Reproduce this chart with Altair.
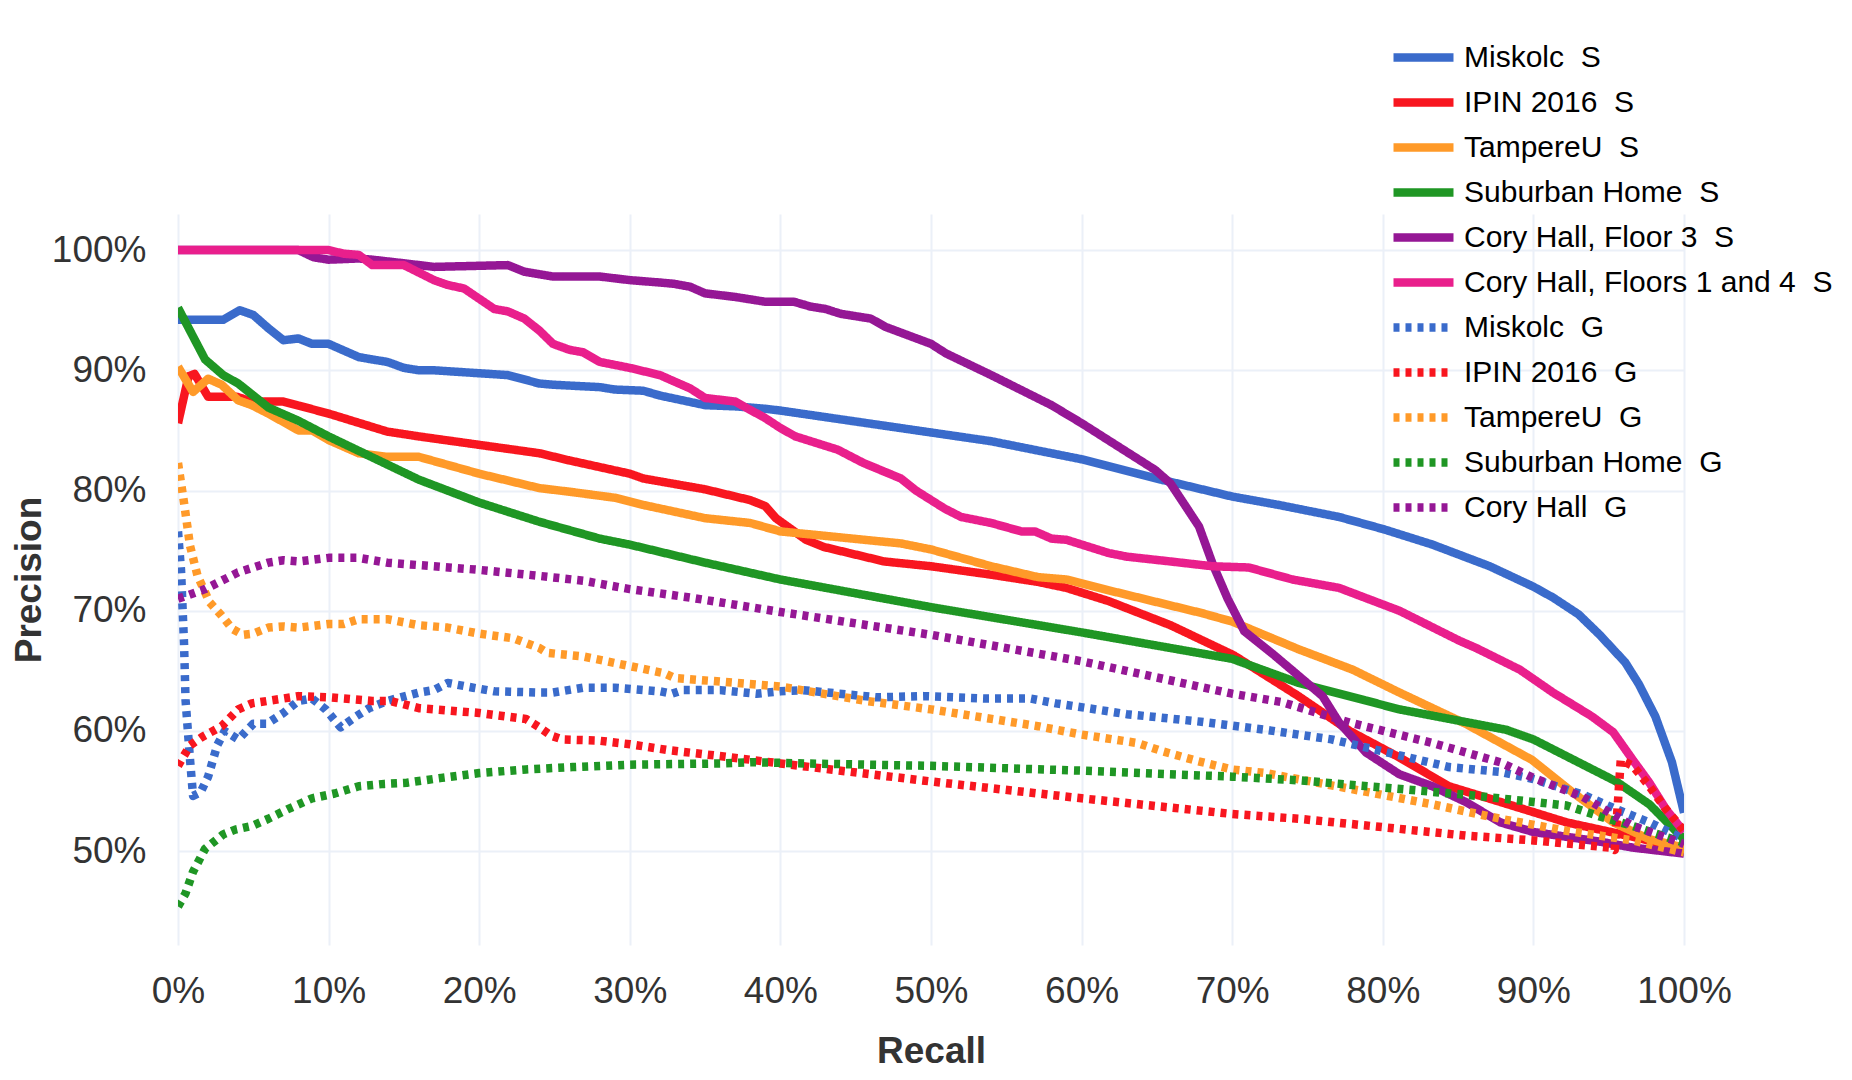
import altair as alt
import pandas as pd

NB = " \u00a0"
names = [
    "Miskolc" + NB + "S",
    "IPIN 2016" + NB + "S",
    "TampereU" + NB + "S",
    "Suburban Home" + NB + "S",
    "Cory Hall, Floor 3" + NB + "S",
    "Cory Hall, Floors 1 and 4" + NB + "S",
    "Miskolc" + NB + "G",
    "IPIN 2016" + NB + "G",
    "TampereU" + NB + "G",
    "Suburban Home" + NB + "G",
    "Cory Hall" + NB + "G",
]
colors = ["#3a6bcb", "#f8161f", "#ff9a29", "#1f9624", "#951795", "#e91f8c",
          "#3a6bcb", "#f8161f", "#ff9a29", "#1f9624", "#951795"]

# --- Miskolc S
miskolc_s_x = [0, 3, 4.1, 5, 6, 7, 8, 8.9, 10, 12, 12.9, 13.9, 15, 16, 17, 21.9, 24, 24.9, 28, 29, 30.9, 32, 35, 37, 39, 40,
               54, 60, 65.3, 70, 73.1, 77.1, 80, 83.3, 87.1, 90, 91.3, 93, 94.4, 96.1, 97, 98.1, 99.2, 100]
miskolc_s_y = [94.2, 94.2, 95.0, 94.6, 93.5, 92.5, 92.65, 92.2, 92.2, 91.1, 90.9, 90.7, 90.2, 90.0, 90.0, 89.6, 88.9, 88.8, 88.6,
               88.4, 88.3, 87.9, 87.1, 87.0, 86.8, 86.65, 84.1, 82.6, 80.9, 79.5, 78.8, 77.8, 76.8, 75.5, 73.7, 72.0, 71.1,
               69.7, 68.0, 65.7, 63.9, 61.2, 57.4, 53.2]
# --- IPIN 2016 S
ipin_s_x = [0, 0.7, 1.1, 2, 3.9, 4.9, 7, 10, 13.9, 16, 20, 24, 26, 30, 30.9, 35, 38, 39, 39.7, 41.7, 42.9, 46.9, 50, 54, 57.1,
            59, 61.8, 65.9, 70.1, 74.4, 77.8, 81.1, 84.4, 87.8, 92.2, 96.6, 100]
ipin_s_y = [85.6, 89.5, 89.7, 87.8, 87.8, 87.4, 87.4, 86.4, 84.9, 84.5, 83.8, 83.1, 82.5, 81.4, 81.0, 80.1, 79.2, 78.7, 77.7,
            75.9, 75.3, 74.1, 73.7, 73.0, 72.4, 71.9, 70.8, 68.8, 66.3, 62.9, 60.0, 57.8, 55.4, 54.1, 52.4, 51.2, 50.2]
# --- TampereU S
tampere_s_x = [0, 1.0, 2, 2.9, 4, 4.9, 6, 8, 8.9, 10, 12, 13.9, 16, 20, 24, 26, 29, 30.9, 35, 38, 40, 48, 50, 54, 57.1, 59,
               61.8, 68, 70, 74.4, 78, 81.1, 85.5, 89.9, 92.6, 95.3, 97.7, 100]
tampere_s_y = [90.3, 88.2, 89.3, 88.8, 87.5, 87.1, 86.4, 85.0, 85.0, 84.2, 83.1, 82.8, 82.8, 81.4, 80.2, 79.9, 79.4, 78.8,
               77.7, 77.3, 76.6, 75.6, 75.1, 73.7, 72.8, 72.6, 71.7, 69.8, 69.1, 66.8, 65.1, 63.2, 60.6, 57.6, 54.9, 52.4,
               51.0, 50.3]
# --- Suburban Home S
suburban_s_x = [0, 1.8, 3, 4, 6, 8, 10, 12, 15, 16, 20, 24, 28, 30, 35, 40, 50, 60, 70, 74.4, 81.1, 88.2, 90, 93.3, 95.5,
                97.7, 100]
suburban_s_y = [95.2, 90.9, 89.6, 88.9, 86.9, 85.8, 84.5, 83.3, 81.5, 80.9, 79.0, 77.4, 76.0, 75.5, 74.0, 72.6, 70.3, 68.2,
                66.0, 64.0, 61.8, 60.1, 59.3, 57.2, 55.8, 53.9, 51.0]
# --- Cory Hall, Floor 3 S
cory3_s_x = [0, 8, 9, 10, 12, 12.9, 15, 17, 21.9, 23, 24.9, 28, 30, 32, 32.9, 34, 35, 37, 39, 40.9, 42, 43, 44, 46, 47, 50,
             51, 54, 58, 60, 64.9, 65.9, 66.8, 67.8, 68.7, 69.7, 70.8, 72.7, 74.4, 76, 77.1, 78.9, 81.1, 83.3, 85.5, 87.8,
             90, 92.2, 94.4, 96.6, 100]
cory3_s_y = [100, 100, 99.4, 99.2, 99.3, 99.2, 98.9, 98.6, 98.75, 98.2, 97.8, 97.8, 97.5, 97.3, 97.2, 96.95, 96.4, 96.1,
             95.7, 95.7, 95.3, 95.1, 94.7, 94.3, 93.6, 92.2, 91.4, 89.6, 87.1, 85.6, 81.7, 80.6, 78.9, 77.0, 73.9, 71.0,
             68.3, 66.4, 64.6, 62.9, 60.7, 58.2, 56.4, 55.4, 54.1, 52.4, 51.6, 51.2, 50.8, 50.3, 49.8]
# --- Cory Hall, Floors 1 and 4 S
cory14_s_x = [0, 10, 11, 12, 12.9, 15, 17, 17.9, 19, 21, 21.9, 23, 24, 24.9, 26, 26.9, 28, 30, 32, 32.9, 34, 35, 37, 38,
              38.9, 40, 41, 43.8, 45.5, 48, 49, 50.9, 52, 54, 56, 56.9, 58, 59, 61.8, 63, 65.9, 68.7, 71.1, 74, 77.1,
              81.1, 85.1, 86.2, 89.1, 91.3, 93.9, 95.3, 96.6, 97.7, 98.8, 100]
cory14_s_y = [100, 100, 99.7, 99.6, 98.75, 98.75, 97.5, 97.1, 96.8, 95.1, 94.9, 94.3, 93.3, 92.2, 91.7, 91.5, 90.7, 90.2,
              89.6, 89.1, 88.5, 87.7, 87.4, 86.7, 86.1, 85.2, 84.5, 83.4, 82.3, 81.0, 80.0, 78.5, 77.8, 77.3, 76.6, 76.6,
              76.0, 75.9, 74.8, 74.5, 74.1, 73.7, 73.6, 72.6, 71.9, 70.0, 67.5, 66.9, 65.1, 63.2, 61.2, 59.9, 57.6, 55.7,
              53.5, 51.6]
# --- Miskolc G
miskolc_g_x = [0, 0.2, 0.4, 0.5, 0.8, 1, 1.5, 2, 2.6, 3.1, 4, 5, 5.9, 7, 8, 8.9, 9.8, 10.8, 11.8, 12.7, 13.9, 16, 17, 17.9,
               19.6, 21, 24, 24.9, 26.9, 29, 32, 32.8, 33.5, 36, 38.4, 40, 41.5, 46.4, 49.5, 53.5, 56.6, 58.3, 63, 67.7,
               72.2, 76.6, 80, 84.4, 87.8, 90, 93.3, 95.5, 97.7, 100]
miskolc_g_y = [76.6, 73.4, 67.3, 62.6, 57.6, 54.6, 54.9, 56.2, 58.8, 60.0, 59.3, 60.6, 60.6, 61.5, 62.5, 62.7, 61.8, 60.3,
               61.2, 61.9, 62.5, 63.2, 63.4, 64.0, 63.6, 63.3, 63.2, 63.2, 63.6, 63.6, 63.3, 63.1, 63.4, 63.4, 63.1, 63.3,
               63.4, 62.8, 62.9, 62.7, 62.7, 62.3, 61.4, 60.8, 60.1, 59.3, 58.3, 57.0, 56.6, 56.0, 54.7, 53.5, 52.4, 51.0]
# --- IPIN 2016 G
ipin_g_x = [0, 0.8, 1.6, 2.9, 4, 4.9, 7, 8, 10, 12.9, 14.1, 16, 20, 23.1, 24, 24.8, 25.5, 27.9, 30, 32.6, 36.1, 40, 50, 60,
            70, 74.4, 80, 85.5, 90, 95.1, 95.4, 95.8, 96.6, 97.7, 98.8, 100]
ipin_g_y = [57.1, 58.8, 59.5, 60.4, 61.8, 62.3, 62.7, 62.9, 62.8, 62.5, 62.5, 61.9, 61.5, 61.0, 60.3, 59.6, 59.3, 59.2,
            58.9, 58.4, 57.9, 57.3, 55.8, 54.4, 53.1, 52.7, 52.0, 51.3, 50.9, 50.3, 50.1, 57.6, 57.1, 55.4, 53.5, 51.7]
# --- TampereU G
tampere_g_x = [0, 0.4, 0.8, 1.3, 2.1, 2.9, 3.6, 4.3, 5, 6, 7, 8, 10, 11, 12, 13.9, 16, 17.9, 20, 22.3, 24, 24.5, 26.9, 30,
               32.3, 33, 36.1, 40, 45.7, 50, 57.1, 60, 63.7, 65.4, 67.7, 70, 72.2, 77.8, 83.3, 87.8, 92.2, 96.6, 100]
tampere_g_y = [82.3, 79.0, 75.4, 72.9, 70.7, 69.6, 68.5, 68.0, 68.1, 68.6, 68.7, 68.6, 68.9, 68.9, 69.3, 69.3, 68.8, 68.6,
               68.1, 67.7, 66.9, 66.5, 66.2, 65.4, 64.8, 64.4, 64.1, 63.7, 62.5, 61.8, 60.4, 59.7, 59.0, 58.3, 57.5, 56.8,
               56.5, 55.2, 53.9, 52.7, 51.7, 50.9, 49.9]
# --- Suburban Home G
suburban_g_x = [0, 0.5, 1, 1.8, 3, 3.8, 4.9, 6, 7.3, 8.9, 10.4, 12, 13.7, 15.2, 17.5, 20, 23.1, 26.2, 30, 36.1, 38.2, 41.7,
                50, 60, 70, 74.4, 80, 85.5, 90, 92.2, 94.4, 96.6, 100]
suburban_g_y = [45.4, 46.5, 48.3, 50.2, 51.4, 51.8, 52.1, 52.7, 53.5, 54.4, 54.8, 55.4, 55.6, 55.7, 56.1, 56.5, 56.8, 57.0,
                57.2, 57.3, 57.4, 57.3, 57.1, 56.7, 56.2, 55.9, 55.3, 54.7, 54.1, 53.8, 52.9, 52.1, 50.7]
# --- Cory Hall G
cory_g_x = [0, 1.8, 4, 6, 7, 8, 10, 12, 13.9, 17, 20, 24, 26.9, 30, 34, 36.5, 40, 50, 60, 70, 73.3, 77.8, 83.3, 87.8, 90,
            93.3, 96.6, 100]
cory_g_y = [71.0, 71.8, 73.2, 74.0, 74.2, 74.1, 74.4, 74.4, 74.0, 73.7, 73.4, 72.9, 72.5, 71.8, 71.1, 70.6, 69.9, 68.0,
            65.8, 63.1, 62.4, 60.7, 59.0, 57.4, 56.1, 54.5, 52.1, 50.6]

series_xy = [
    (miskolc_s_x, miskolc_s_y), (ipin_s_x, ipin_s_y), (tampere_s_x, tampere_s_y),
    (suburban_s_x, suburban_s_y), (cory3_s_x, cory3_s_y), (cory14_s_x, cory14_s_y),
    (miskolc_g_x, miskolc_g_y), (ipin_g_x, ipin_g_y), (tampere_g_x, tampere_g_y),
    (suburban_g_x, suburban_g_y), (cory_g_x, cory_g_y),
]

x_ticks = [0, 10, 20, 30, 40, 50, 60, 70, 80, 90, 100]
y_ticks = [50, 60, 70, 80, 90, 100]

rows = []
for name, (xs, ys) in zip(names, series_xy):
    for xv, yv in zip(xs, ys):
        rows.append({"series": name, "recall": xv, "precision": yv})
df = pd.DataFrame(rows)

dashes = [[1, 0]] * 6 + [[6, 6]] * 5
widths = [8.5] * 6 + [6.5] * 5

FONT = "Liberation Sans"
TXT = "#333333"

legend = alt.Legend(
    title=None, orient="none", legendX=1226, legendY=-176, padding=0,
    symbolType="M-2,0H2", symbolSize=900, symbolOffset=0,
    labelFontSize=30, labelFont=FONT, labelColor="#000000", labelOffset=21,
    rowPadding=8, labelLimit=600,
)

chart = alt.Chart(df).mark_line(strokeJoin="round", clip=True).encode(
    x=alt.X("recall:Q",
            scale=alt.Scale(domain=[0, 100], nice=False, zero=False),
            axis=alt.Axis(values=x_ticks, labelExpr="datum.value + '%'", title="Recall",
                          grid=True, ticks=False, tickSize=0, domain=False,
                          labelPadding=28, titlePadding=24, labelFlush=False, labelOverlap=False,
                          labelFontSize=37, titleFontSize=37, titleFontWeight="bold",
                          labelFont=FONT, titleFont=FONT, labelColor=TXT, titleColor=TXT,
                          gridColor="#ebf0f8", gridWidth=2)),
    y=alt.Y("precision:Q",
            scale=alt.Scale(domain=[42.2, 103], nice=False, zero=False),
            axis=alt.Axis(values=y_ticks, labelExpr="datum.value + '%'", title="Precision",
                          grid=True, ticks=False, tickSize=0, domain=False,
                          labelPadding=32, titlePadding=3, labelFlush=False, labelOverlap=False,
                          labelFontSize=37, titleFontSize=37, titleFontWeight="bold",
                          labelFont=FONT, titleFont=FONT, labelColor=TXT, titleColor=TXT,
                          gridColor="#ebf0f8", gridWidth=2)),
    color=alt.Color("series:N", scale=alt.Scale(domain=names, range=colors), legend=legend),
    strokeDash=alt.StrokeDash("series:N", scale=alt.Scale(domain=names, range=dashes), legend=legend),
    strokeWidth=alt.StrokeWidth("series:N", scale=alt.Scale(domain=names, range=widths), legend=legend),
).properties(
    width=1506, height=731,
    autosize=alt.AutoSizeParams(type="none"),
    padding={"left": 170, "top": 206, "right": 160, "bottom": 127},
    background="white",
).configure_view(stroke=None)

chart.save("out.html", embed_options={"renderer": "svg", "actions": False})
